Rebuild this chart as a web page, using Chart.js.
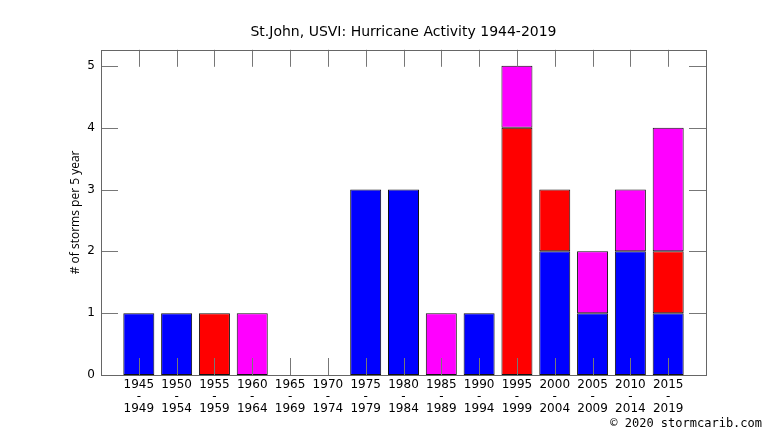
<!DOCTYPE html>
<html>
<head>
<meta charset="utf-8">
<script src="https://cdn.jsdelivr.net/npm/chart.js@4/dist/chart.umd.min.js"></script>
<style>
  html, body { margin: 0; padding: 0; background: #fff; }
  #wrap { width: 766px; height: 431px; }
</style>
</head>
<body>
<div id="wrap"><canvas id="storm_chart"></canvas></div>
<script>
// five year periods 1945-2019
const periods = [
    ['1945', '-', '1949'], ['1950', '-', '1954'], ['1955', '-', '1959'],
    ['1960', '-', '1964'], ['1965', '-', '1969'], ['1970', '-', '1974'],
    ['1975', '-', '1979'], ['1980', '-', '1984'], ['1985', '-', '1989'],
    ['1990', '-', '1994'], ['1995', '-', '1999'], ['2000', '-', '2004'],
    ['2005', '-', '2009'], ['2010', '-', '2014'], ['2015', '-', '2019'],
];
// storms per period, stacked blue / red / magenta
const blue_storms = [1, 1, 0, 0, 0, 0, 3, 3, 0, 1, 0, 2, 1, 2, 1];
const red_storms = [0, 0, 1, 0, 0, 0, 0, 0, 0, 0, 4, 1, 0, 0, 1];
const magenta_storms = [0, 0, 0, 1, 0, 0, 0, 0, 1, 0, 1, 0, 1, 1, 2];
const y_ticks = [0, 1, 2, 3, 4, 5];

// an empty slot on each side, like the gnuplot x range
const labels = [''].concat(periods, ['']);
const pad = (arr) => [null].concat(arr.map(v => v || null), [null]);

const TICK_LEN = 17;

// inward tick marks on all four sides + frame
const frame_ticks = {
    id: 'frame_ticks',
    afterDatasetsDraw(chart) {
        const ctx = chart.ctx;
        const a = chart.chartArea;
        const x = chart.scales.x;
        const y = chart.scales.y;
        ctx.save();
        ctx.strokeStyle = '#777';
        ctx.lineWidth = 1;
        ctx.beginPath();
        y_ticks.forEach(v => {
            const py = Math.round(y.getPixelForValue(v)) + 0.5;
            ctx.moveTo(a.left, py); ctx.lineTo(a.left + TICK_LEN, py);
            ctx.moveTo(a.right, py); ctx.lineTo(a.right - TICK_LEN, py);
        });
        for (let i = 1; i <= periods.length; i++) {
            const px = Math.round(x.getPixelForValue(i)) + 0.5;
            ctx.moveTo(px, a.bottom); ctx.lineTo(px, a.bottom - TICK_LEN);
            ctx.moveTo(px, a.top); ctx.lineTo(px, a.top + TICK_LEN);
        }
        ctx.stroke();
        ctx.strokeStyle = '#666';
        ctx.strokeRect(Math.round(a.left) + 0.5, Math.round(a.top) + 0.5,
            Math.round(a.right - a.left), Math.round(a.bottom - a.top));
        // copyright line
        ctx.fillStyle = '#000';
        ctx.font = '12px "DejaVu Sans Mono"';
        ctx.textAlign = 'right';
        ctx.textBaseline = 'middle';
        ctx.fillText('\u00a9 2020 stormcarib.com', 762, 424);
        ctx.restore();
    }
};

const bar_style = {
    borderColor: '#111',
    borderWidth: 1,
    borderSkipped: false,
    barPercentage: 0.82,
    categoryPercentage: 1,
};

let storm_chart = new Chart(
    document.getElementById('storm_chart').getContext('2d'), {
    type: 'bar',
    data: {
        labels: labels,
        datasets: [
            { label: 'blue', data: pad(blue_storms), backgroundColor: '#0000ff', ...bar_style },
            { label: 'red', data: pad(red_storms), backgroundColor: '#ff0000', ...bar_style },
            { label: 'magenta', data: pad(magenta_storms), backgroundColor: '#ff00ff', ...bar_style },
        ],
    },
    options: {
        responsive: true,
        maintainAspectRatio: false,
        animation: false,
        layout: { padding: { left: 62, right: 60, top: 0, bottom: 0 } },
        plugins: {
            legend: { display: false },
            tooltip: { enabled: false },
            title: {
                display: true,
                fullSize: false,
                text: 'St.John, USVI: Hurricane Activity 1944-2019',
                color: '#000',
                font: { family: 'DejaVu Sans', size: 14, weight: 'normal' },
                padding: { top: 24, bottom: 9 },
            },
        },
        scales: {
            x: {
                stacked: true,
                offset: false,
                grid: { display: false, drawTicks: false },
                border: { display: false },
                ticks: {
                    color: '#000',
                    autoSkip: false,
                    maxRotation: 0,
                    padding: 4,
                    font: { family: 'DejaVu Sans', size: 12, lineHeight: 0.98 },
                },
                afterFit(scale) { scale.height = 56; },
            },
            y: {
                stacked: true,
                min: 0,
                max: 5.26,
                grid: { display: false, drawTicks: false },
                border: { display: false },
                afterBuildTicks(scale) {
                    scale.ticks = y_ticks.map(v => ({ value: v }));
                },
                ticks: {
                    color: '#000',
                    padding: 6,
                    font: { family: 'DejaVu Sans', size: 12 },
                },
                title: {
                    display: true,
                    text: '# of storms per 5 year',
                    color: '#000',
                    padding: { top: 6, bottom: 0 },
                    font: { family: 'Open Sans', size: 12 },
                },
                afterFit(scale) { scale.width = 39; },
            },
        },
    },
    plugins: [frame_ticks],
});
</script>
</body>
</html>
